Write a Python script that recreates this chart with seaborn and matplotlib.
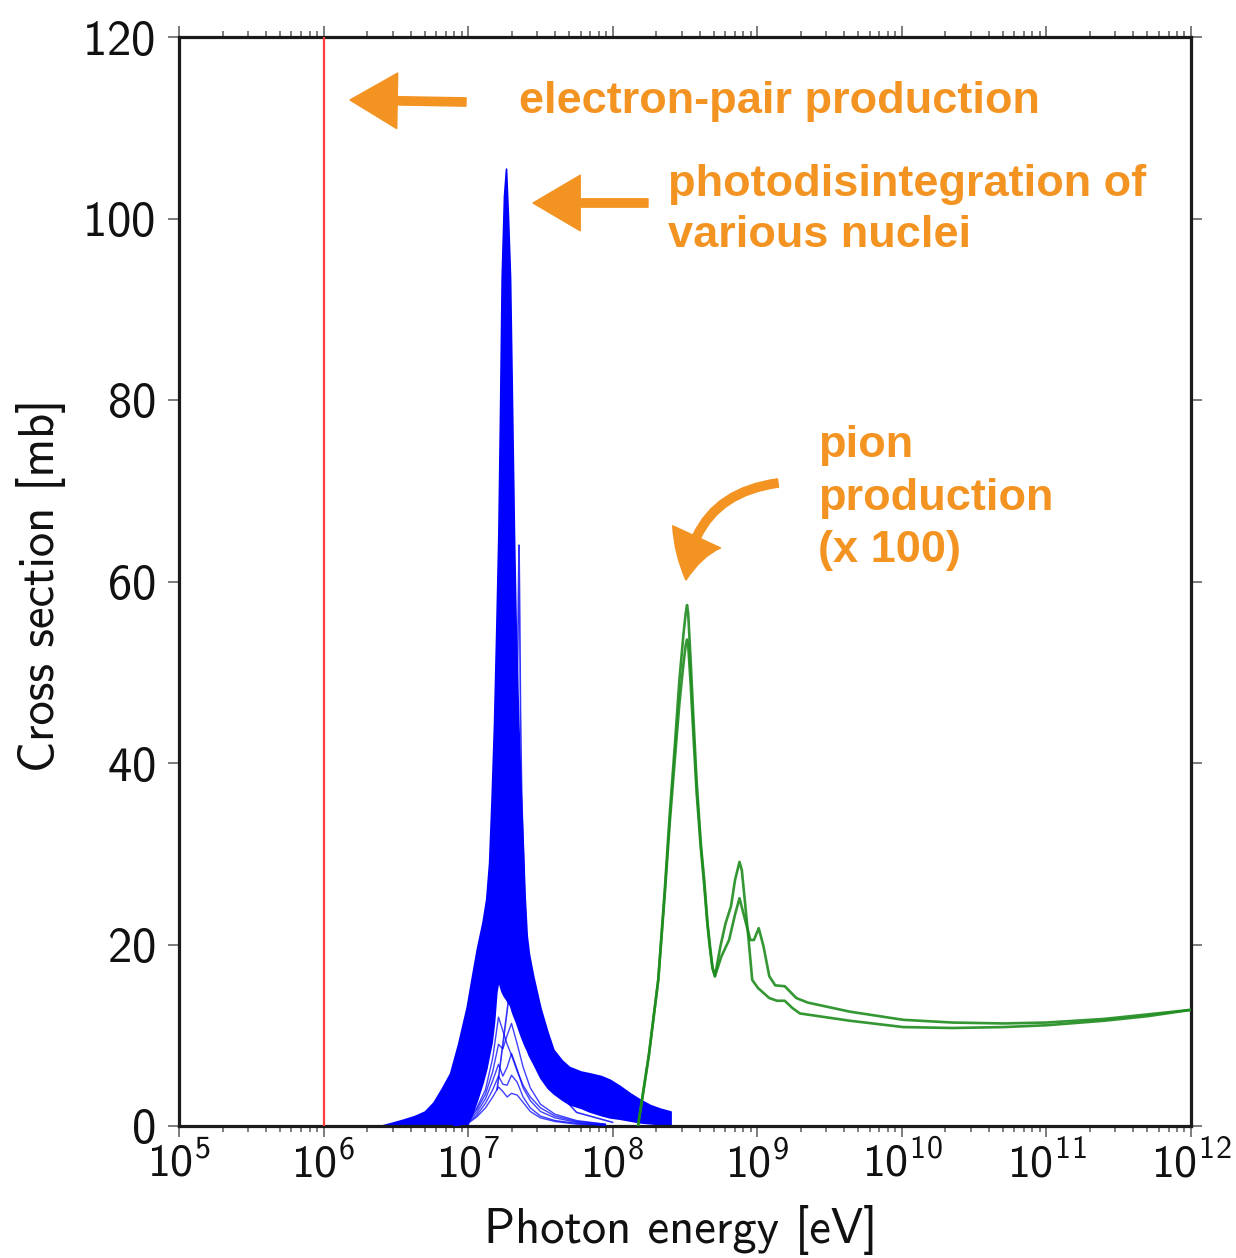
import numpy as np
import pandas as pd
import matplotlib
matplotlib.use("Agg")
import matplotlib.pyplot as plt
from matplotlib.ticker import LogLocator, NullFormatter
import seaborn as sns

# ---------------- data ----------------
# electron-pair production threshold marker [eV]
PAIR_ENERGY = 1.0e6

# photodisintegration: envelope of the dense bundle of nuclei curves
BAND_LOGE = [6.39, 6.46, 6.55, 6.63, 6.70, 6.76, 6.82, 6.875, 6.93, 6.99, 7.03,
             7.06, 7.10, 7.125, 7.145, 7.162, 7.179, 7.195, 7.209, 7.22, 7.232,
             7.248, 7.262, 7.276, 7.29, 7.303, 7.317, 7.33, 7.347, 7.365, 7.38,
             7.39, 7.405, 7.42, 7.45, 7.50, 7.55, 7.59, 7.65, 7.70, 7.78, 7.84,
             7.92, 7.98, 8.05, 8.12, 8.19, 8.26, 8.33, 8.40]
BAND_UPPER = [0.0, 0.3, 0.7, 1.1, 1.6, 2.6, 4.2, 5.8, 9.0, 13.1, 16.8,
              19.5, 22.5, 25.0, 29.0, 36.0, 44.3, 55.0, 65.3, 78.0, 93.5,
              102.5, 105.5, 100.0, 93.5, 80.0, 65.3, 54.0, 44.3, 36.0, 30.2,
              25.5, 21.0, 19.0, 16.5, 13.0, 10.3, 8.4, 7.2, 6.5, 6.0, 5.8,
              5.5, 5.1, 4.4, 3.6, 2.9, 2.3, 1.9, 1.6]
BAND_LOWER = [0.0, 0.0, 0.0, 0.0, 0.0, 0.0, 0.0, 0.0, 0.0, 0.0, 1.5,
              2.8, 4.8, 6.3, 7.9, 9.2, 11.5, 14.8, 16.1, 15.4, 14.8,
              14.3, 14.0, 13.6, 13.3, 12.6, 12.0, 11.5, 10.7, 9.9, 9.3,
              8.9, 8.4, 7.8, 6.9, 5.3, 4.2, 3.6, 2.9, 2.4, 2.0, 1.6,
              1.2, 0.95, 0.8, 0.6, 0.4, 0.3, 0.2, 0.0]

# a few light nuclei drawn as separate thin curves
THIN_LOGE = [6.90, 7.00, 7.06, 7.12, 7.17, 7.21, 7.24, 7.27, 7.30, 7.34,
             7.38, 7.43, 7.50, 7.60, 7.75, 7.95]
THIN_1 = [0, 0.8, 2.0, 4.0, 7.5, 12.0, 10.5, 9.0, 7.8, 6.0, 4.5, 3.2, 2.0, 1.1, 0.5, 0.2]
THIN_2 = [0, 0.5, 1.5, 3.0, 5.0, 6.8, 5.5, 6.5, 8.0, 6.2, 4.2, 2.8, 1.6, 0.9, 0.4, 0.1]
THIN_3 = [0, 0.4, 1.2, 2.5, 4.0, 5.5, 4.6, 4.5, 5.6, 4.8, 3.2, 2.0, 1.1, 0.6, 0.3, 0.1]
THIN_4 = [0, 0.3, 1.0, 2.0, 3.2, 4.3, 3.8, 3.2, 3.6, 3.4, 2.6, 1.6, 0.9, 0.5, 0.2, 0.1]
THIN_5 = [0, 0.6, 1.8, 3.5, 6.0, 9.0, 8.5, 10.0, 11.3, 9.0, 6.5, 4.2, 2.4, 1.3, 0.6, 0.2]

# one nucleus with a narrow resonance
SPIKE_LOGE = [7.20, 7.28, 7.32, 7.34, 7.352, 7.357, 7.362, 7.37, 7.385, 7.41,
              7.45, 7.55, 7.75, 8.0]
SPIKE = [4, 14, 30, 48, 64, 56, 46, 37, 28, 18, 11, 5, 1.5, 0.4]

# pion production (x 100), two curves
PION_A_LOGE = [8.175, 8.25, 8.315, 8.36, 8.395, 8.43, 8.461, 8.48, 8.49, 8.505,
               8.514, 8.522, 8.54, 8.555, 8.58, 8.61, 8.633, 8.655, 8.673, 8.69,
               8.707, 8.745, 8.78, 8.818, 8.846, 8.877, 8.893, 8.911, 8.94,
               8.965, 9.005, 9.083, 9.137, 9.19, 9.243, 9.295, 9.64, 10.01,
               10.35, 10.70, 11.0, 11.4, 11.7, 12.0]
PION_A = [0, 7.8, 16.1, 26.0, 34.5, 42.0, 49.1, 52.5, 54.3, 56.5,
          57.4, 56.5, 51.0, 46.0, 38.1, 31.0, 27.1, 22.5, 19.8, 17.5,
          16.5, 19.8, 22.3, 24.2, 27.1, 29.1, 28.2, 25.3, 20.5,
          16.1, 15.2, 14.1, 13.8, 13.8, 13.0, 12.4, 11.6, 10.9,
          10.8, 10.9, 11.1, 11.6, 12.1, 12.8]
PION_B_LOGE = [8.175, 8.25, 8.315, 8.36, 8.395, 8.43, 8.461, 8.48, 8.49, 8.505,
               8.514, 8.522, 8.54, 8.555, 8.58, 8.61, 8.633, 8.655, 8.673, 8.69,
               8.707, 8.752, 8.805, 8.846, 8.877, 8.898, 8.952, 8.977, 9.01,
               9.043, 9.083, 9.124, 9.19, 9.27, 9.349, 9.64, 10.01, 10.35,
               10.70, 11.0, 11.4, 11.7, 12.0]
PION_B = [0, 7.8, 16.1, 25.5, 33.5, 40.5, 46.5, 49.5, 51.0, 53.0,
          53.6, 53.0, 48.5, 44.0, 36.8, 30.5, 26.5, 22.2, 19.5, 17.4,
          16.5, 18.7, 20.5, 23.3, 25.1, 23.8, 20.5, 20.5, 21.8,
          19.8, 16.5, 15.5, 15.4, 14.1, 13.6, 12.6, 11.7, 11.4,
          11.3, 11.4, 11.8, 12.3, 12.8]

X_LABEL = "Photon energy [eV]"
Y_LABEL = "Cross section [mb]"
Y_TICKS = [0, 20, 40, 60, 80, 100, 120]
NOTE_PAIR = "electron-pair production"
NOTE_PHOTO = ["photodisintegration of", "various nuclei"]
NOTE_PION = ["pion", "production", "(x 100)"]

# ---------------- style ----------------
sns.set_theme(style="ticks")
plt.rcParams.update({
    "font.family": ["cmss10", "DejaVu Sans"],
    "mathtext.fontset": "custom",
    "mathtext.rm": "cmss10",
    "mathtext.it": "cmss10",
    "mathtext.bf": "cmss10",
    "mathtext.sf": "cmss10",
    "axes.unicode_minus": False,
    "axes.formatter.use_mathtext": True,
})

ORANGE = "#F39322"
BLUE = "#0000FF"
GREEN = "#1E8C1E"

W, H = 1236, 1258
fig = plt.figure(figsize=(W / 100, H / 100), dpi=100)
ax = fig.add_axes([179 / W, (H - 1126) / H, 1012 / W, 1089 / H])

# photodisintegration band
band_e = np.power(10.0, BAND_LOGE)
ax.fill_between(band_e, BAND_LOWER, BAND_UPPER, color=BLUE, lw=1.2,
                edgecolor=BLUE, zorder=2)

thin = pd.DataFrame({
    "E": np.tile(np.power(10.0, THIN_LOGE), 5),
    "sigma": THIN_1 + THIN_2 + THIN_3 + THIN_4 + THIN_5,
    "nucleus": np.repeat(["n1", "n2", "n3", "n4", "n5"], len(THIN_LOGE)),
})
sns.lineplot(data=thin, x="E", y="sigma", units="nucleus", estimator=None,
             color=BLUE, lw=1.0, alpha=0.75, sort=False, ax=ax, zorder=3)

spike = pd.DataFrame({"E": np.power(10.0, SPIKE_LOGE), "sigma": SPIKE})
sns.lineplot(data=spike, x="E", y="sigma", color=BLUE, lw=1.2, alpha=0.8,
             sort=False, ax=ax, zorder=3)

pion = pd.DataFrame({
    "E": np.concatenate([np.power(10.0, PION_A_LOGE), np.power(10.0, PION_B_LOGE)]),
    "sigma": PION_A + PION_B,
    "curve": ["a"] * len(PION_A) + ["b"] * len(PION_B),
})
sns.lineplot(data=pion, x="E", y="sigma", hue="curve", palette=[GREEN, GREEN],
             estimator=None, lw=1.9, alpha=0.9, sort=False, legend=False,
             ax=ax, zorder=4)

ax.axvline(PAIR_ENERGY, color="#FF3B3B", lw=1.6, zorder=5)

# axes
ax.set_xscale("log")
ax.set_xlim(1e5, 1e12)
ax.set_ylim(0, 120)
ax.set_yticks(Y_TICKS)
ax.xaxis.set_major_locator(LogLocator(base=10, numticks=20))
ax.xaxis.set_minor_locator(LogLocator(base=10, subs=np.arange(2, 10), numticks=100))
ax.xaxis.set_minor_formatter(NullFormatter())
for s in ax.spines.values():
    s.set_linewidth(2.3)
    s.set_color("#1a1a1a")
ax.tick_params(which="both", direction="out", top=True, right=True,
               color="#666666", width=1.2)
ax.tick_params(which="major", length=8)
ax.tick_params(which="minor", length=4.5)
ax.tick_params(axis="y", labelsize=35, pad=9, labelcolor="#111111")
ax.tick_params(axis="x", labelsize=33, pad=3, labelcolor="#111111")

ax.set_xlabel(X_LABEL, fontsize=35, color="#111111")
ax.set_ylabel(Y_LABEL, fontsize=35, color="#111111")
ax.xaxis.set_label_coords((681 - 179) / 1012, (1126 - 1205) / 1089)
ax.xaxis.label.set_va("top")
ax.yaxis.set_label_coords((66 - 179) / 1012, (1126 - 585) / 1089)

# annotations
def fp(px, py):
    return (px / W, 1 - py / H)

tkw = dict(color=ORANGE, fontsize=32.5, fontweight="bold",
           family=["Liberation Sans", "DejaVu Sans"], ha="left", va="baseline")
fig.text(*fp(519, 113), NOTE_PAIR, **tkw)
for i, line in enumerate(NOTE_PHOTO):
    fig.text(*fp(668, 196 + 51 * i), line, **tkw)
for i, line in enumerate(NOTE_PION):
    fig.text(*fp(818, 457 + 52.5 * i), line, **tkw)

akw = dict(arrowstyle="simple,head_length=1.7,head_width=2.0,tail_width=0.3",
           color=ORANGE, shrinkA=0, shrinkB=0, mutation_scale=20)
ax.annotate("", xy=(350, H - 100), xycoords="figure pixels",
            xytext=(466, H - 102), textcoords="figure pixels", arrowprops=akw)
ax.annotate("", xy=(533, H - 203), xycoords="figure pixels",
            xytext=(648, H - 203), textcoords="figure pixels", arrowprops=akw)
akw3 = dict(akw, arrowstyle="simple,head_length=1.6,head_width=1.9,tail_width=0.3",
            connectionstyle="arc3,rad=0.4")
ax.annotate("", xy=(686, H - 580), xycoords="figure pixels",
            xytext=(778, H - 483), textcoords="figure pixels", arrowprops=akw3)

fig.savefig("out.png", dpi=100)
